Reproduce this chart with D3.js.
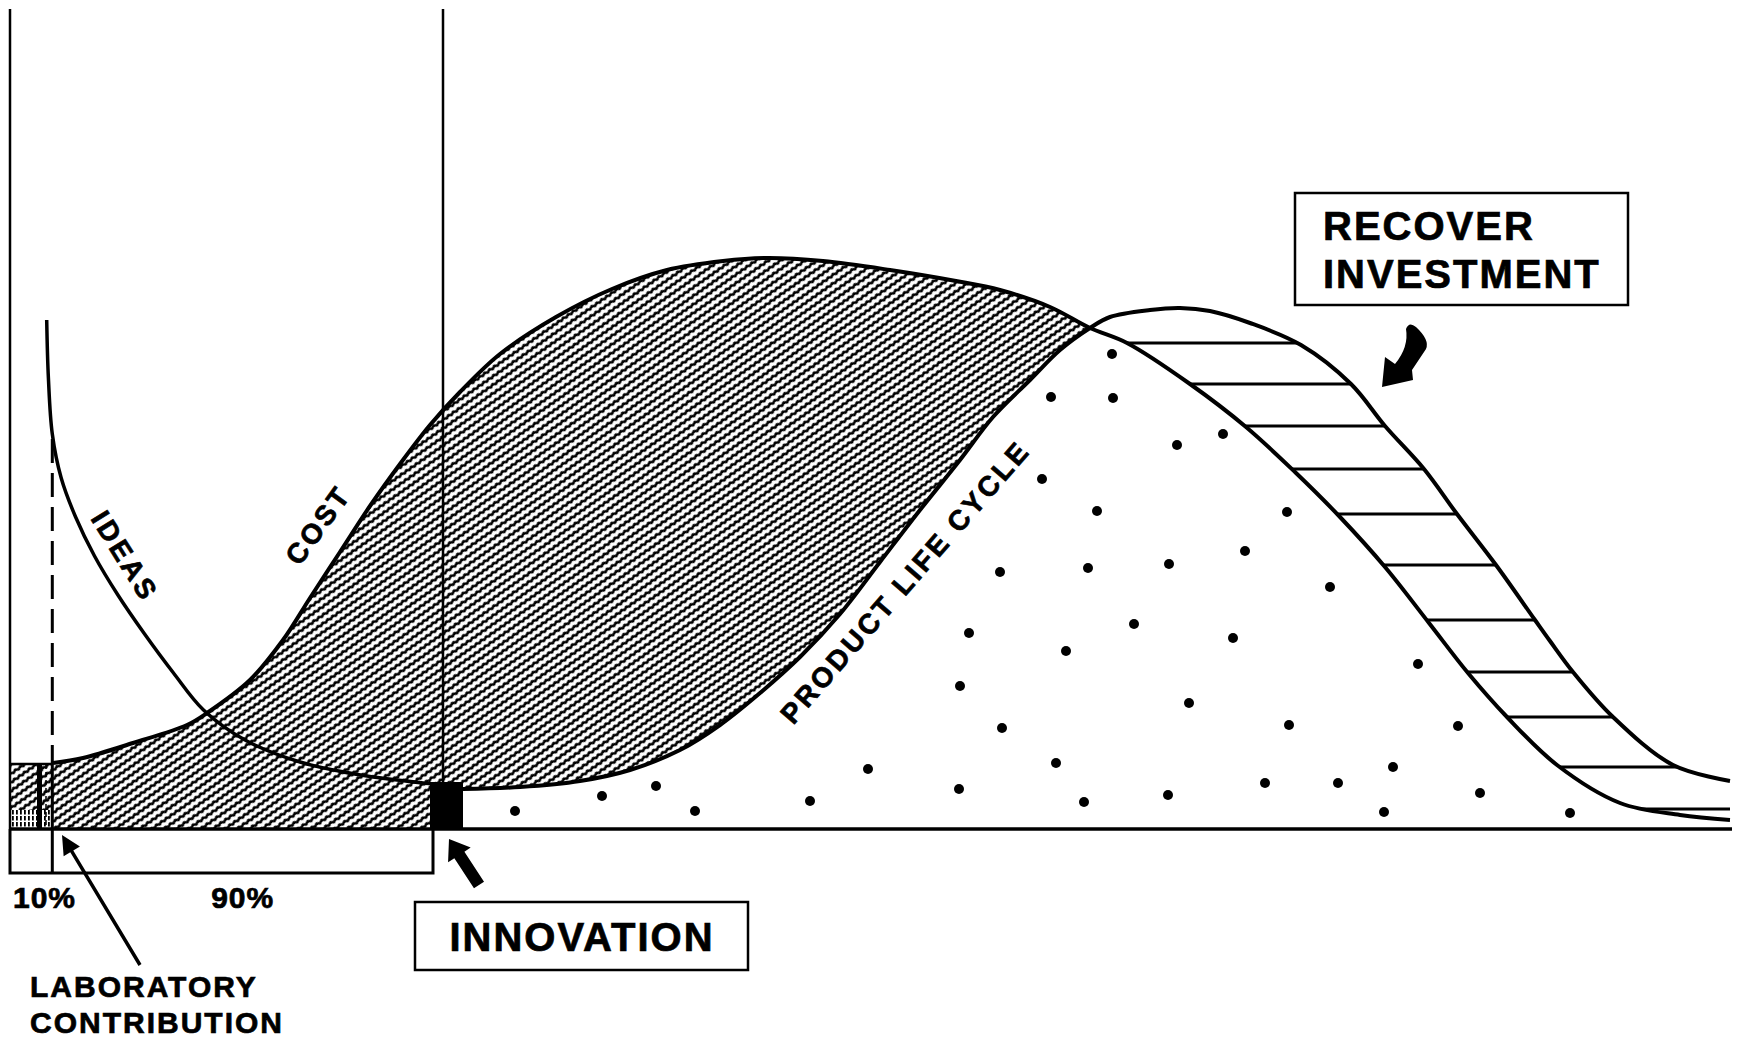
<!DOCTYPE html>
<html>
<head>
<meta charset="utf-8">
<script src="https://cdn.jsdelivr.net/npm/d3@7"></script>
<style>
  html, body { margin: 0; padding: 0; background: #fff; }
  svg { display: block; }
  text { font-family: "Liberation Sans", Arial, Helvetica, sans-serif; font-weight: bold; fill: #000; stroke: #000; stroke-width: 0.7px; }
</style>
</head>
<body>
<svg id="chart" width="1744" height="1041"></svg>
<script>
// --- Data (x: time along the cycle, y: level above the baseline) ---
const ideasCurve = [
    [3.67, 50.9], [3.84, 45.1], [4.23, 39.5], [5.12, 35.1], [6.56, 31.2], [8.45, 27.3],
    [10.79, 23.4], [13.46, 19.5], [16.35, 15.6], [19.35, 11.9], [23.5, 8.9], [29.0, 6.7],
    [35.7, 5.3], [42.4, 4.5]
];
const costCurve = [
    [4.3, 6.6], [7.3, 7.1], [12.3, 8.6], [17.7, 10.4], [19.7, 11.6], [24.0, 14.9],
    [27.3, 18.9], [30.0, 23.1], [33.0, 27.7], [36.0, 32.3], [39.0, 36.5], [42.0, 40.4],
    [45.0, 43.7], [49.0, 47.5], [54.6, 51.2], [60.2, 54.0], [65.7, 55.9], [71.3, 56.8],
    [75.7, 57.1], [81.3, 56.8], [88.0, 55.9], [94.6, 54.8], [99.0, 53.9], [104.0, 52.2],
    [108.0, 50.1], [111.7, 48.6], [118.0, 44.5], [123.6, 40.2], [128.6, 35.6], [133.0, 31.2],
    [137.5, 26.2], [141.9, 20.6], [145.8, 15.6], [149.7, 11.2], [154.7, 6.4], [161.0, 2.6],
    [167.0, 1.4], [172.0, 0.9]
];
const lifeCycleCurve = [
    [45.3, 4.0], [51.0, 4.2], [57.0, 4.8], [62.0, 5.9], [67.0, 7.9], [71.0, 10.4],
    [75.0, 13.6], [79.0, 17.2], [83.0, 21.5], [87.0, 26.7], [91.0, 31.9], [95.0, 36.9],
    [98.3, 41.2], [102.0, 44.9], [105.0, 47.9], [108.0, 50.1], [110.0, 51.2], [114.0, 51.9],
    [117.0, 52.1], [120.0, 51.8], [124.0, 50.6], [129.1, 48.4], [134.1, 44.5], [137.5, 40.3],
    [141.4, 36.0], [144.7, 31.5], [148.6, 26.4], [152.5, 20.9], [154.0, 18.8], [156.3, 15.7],
    [160.3, 11.2], [166.3, 6.4], [172.0, 4.8]
];
const crossX = 108.0;              // cost and life cycle curves meet here
const recoverLevels = [48.6, 44.5, 40.3, 36.0, 31.5, 26.4, 20.9, 15.7, 11.2, 6.2, 2.0];
const salesDots = [
    [50.5, 1.8], [59.2, 3.3], [64.6, 4.3], [68.5, 1.8], [80.0, 2.8], [85.8, 6.0],
    [94.9, 4.0], [95.0, 14.3], [95.9, 19.6], [99.0, 25.7], [99.2, 10.1], [103.2, 35.0],
    [104.1, 43.2], [104.6, 6.6], [105.6, 17.8], [107.4, 2.7], [107.8, 26.1], [108.7, 31.8],
    [110.2, 47.5], [110.3, 43.1], [112.4, 20.5], [115.9, 26.5], [115.8, 3.4], [116.7, 38.4],
    [117.9, 12.6], [121.3, 39.5], [122.3, 19.1], [123.5, 27.8], [125.5, 4.6], [127.7, 31.7],
    [127.9, 10.4], [132.0, 24.2], [132.8, 4.6], [137.4, 1.7], [138.3, 6.2], [140.8, 16.5],
    [144.8, 10.3], [147.0, 3.6], [156.0, 1.6]
];
const labSpan = 42.3;              // research phase before innovation
const labShare = 0.10;             // laboratory part of it
const labHeight = 6.5;
const splitLabels = ["10%", "90%"];
const innovation = { start: 42.0, line: 43.3, end: 45.3, top: 4.7 };

// --- Scales ---
const svg = d3.select("#chart");
const defs = svg.append("defs");
const x = d3.scaleLinear().domain([0, 172.2]).range([10, 1732]);
const y = d3.scaleLinear().domain([0, 82]).range([829, 9]);
const curve = d3.line().x(d => x(d[0])).y(d => y(d[1])).curve(d3.curveCatmullRom.alpha(0.5));
const joinPath = (a, b) => curve(a) + curve(b).replace(/^M/, "L");
const labEnd = labSpan * labShare;

// --- Patterns ---
const wavy = defs.append("pattern").attr("id", "wavy")
    .attr("patternUnits", "userSpaceOnUse")
    .attr("width", 6).attr("height", 7)
    .attr("patternTransform", "rotate(-35)");
wavy.append("path")
    .attr("d", "M-3,2.2 L0,4 L3,2.2 L6,4 L9,2.2")
    .attr("fill", "none").attr("stroke", "#000").attr("stroke-width", 2.6);

const vbars = defs.append("pattern").attr("id", "vbars")
    .attr("patternUnits", "userSpaceOnUse").attr("width", 4).attr("height", 6);
vbars.append("rect").attr("x", 0).attr("y", 0).attr("width", 1.8).attr("height", 4.5).attr("fill", "#000");

// --- Hatched cost area ---
const rise = costCurve.filter(d => d[0] <= crossX);
const climb = lifeCycleCurve.filter(d => d[0] <= crossX).reverse();
svg.append("path")
    .attr("d", joinPath(rise, climb) + `L${x(innovation.end)},${y(0)}L${x(rise[0][0])},${y(0)}Z`)
    .attr("fill", "url(#wavy)");

// laboratory block at the far left
svg.append("rect")
    .attr("x", x(0)).attr("y", y(labHeight))
    .attr("width", x(labEnd) - x(0)).attr("height", y(0) - y(labHeight))
    .attr("fill", "url(#wavy)");
svg.append("rect")
    .attr("x", x(0)).attr("y", y(1.9))
    .attr("width", x(labEnd) - x(0)).attr("height", y(0) - y(1.9))
    .attr("fill", "#fff");
svg.append("rect")
    .attr("x", x(0)).attr("y", y(1.9))
    .attr("width", x(labEnd) - x(0)).attr("height", y(0) - y(1.9))
    .attr("fill", "url(#vbars)");
svg.append("rect")
    .attr("x", x(2.7)).attr("y", y(labHeight))
    .attr("width", x(3.2) - x(2.7)).attr("height", y(0) - y(labHeight))
    .attr("fill", "#000");
svg.append("line")
    .attr("x1", x(3.6)).attr("x2", x(3.6)).attr("y1", y(labHeight)).attr("y2", y(0))
    .attr("stroke", "#000").attr("stroke-width", 1.5).attr("stroke-dasharray", "5,3");
svg.append("path")
    .attr("d", `M${x(0)},${y(labHeight)}H${x(labEnd)}`)
    .attr("stroke", "#000").attr("stroke-width", 2.5);

// --- Recover investment stripes ---
const outer = lifeCycleCurve.filter(d => d[0] >= crossX);
const inner = costCurve.filter(d => d[0] >= crossX).reverse();
defs.append("clipPath").attr("id", "recover")
    .append("path").attr("d", joinPath(outer, inner) + "Z");
svg.append("g").attr("clip-path", "url(#recover)")
    .selectAll("line").data(recoverLevels).join("line")
    .attr("x1", x(crossX)).attr("x2", x(172.2))
    .attr("y1", d => y(d)).attr("y2", d => y(d))
    .attr("stroke", "#000").attr("stroke-width", 3);

// --- Sales dots under the life cycle ---
svg.append("g").selectAll("circle").data(salesDots).join("circle")
    .attr("cx", d => x(d[0])).attr("cy", d => y(d[1]))
    .attr("r", 5).attr("fill", "#000");

// --- Curves ---
[costCurve, lifeCycleCurve].forEach(c => {
    svg.append("path").attr("d", curve(c))
        .attr("fill", "none").attr("stroke", "#000").attr("stroke-width", 4);
});
svg.append("path").attr("d", curve(ideasCurve))
    .attr("fill", "none").attr("stroke", "#000").attr("stroke-width", 3.5);

// --- Axes and guide lines ---
svg.append("line")
    .attr("x1", x(0)).attr("x2", x(0)).attr("y1", y(82)).attr("y2", y(0))
    .attr("stroke", "#000").attr("stroke-width", 2.5);
svg.append("line")
    .attr("x1", x(0)).attr("x2", x(172.2)).attr("y1", y(0)).attr("y2", y(0))
    .attr("stroke", "#000").attr("stroke-width", 3.5);
svg.append("line")
    .attr("x1", x(innovation.line)).attr("x2", x(innovation.line))
    .attr("y1", y(82)).attr("y2", y(innovation.top))
    .attr("stroke", "#000").attr("stroke-width", 2.5);
svg.append("line")
    .attr("x1", x(labEnd)).attr("x2", x(labEnd)).attr("y1", y(39.0)).attr("y2", y(labHeight))
    .attr("stroke", "#000").attr("stroke-width", 3).attr("stroke-dasharray", "24,10");
svg.append("line")
    .attr("x1", x(labEnd)).attr("x2", x(labEnd)).attr("y1", y(labHeight)).attr("y2", y(0))
    .attr("stroke", "#000").attr("stroke-width", 3);

// innovation block
svg.append("rect")
    .attr("x", x(innovation.start)).attr("y", y(innovation.top))
    .attr("width", x(innovation.end) - x(innovation.start))
    .attr("height", y(0) - y(innovation.top))
    .attr("fill", "#000");

// 10% / 90% bracket
svg.append("path")
    .attr("d", `M${x(0)},${y(0)}V${y(-4.4)}H${x(labSpan)}V${y(0)}M${x(labEnd)},${y(0)}V${y(-4.4)}`)
    .attr("fill", "none").attr("stroke", "#000").attr("stroke-width", 3);
svg.append("text").attr("x", x(0.3)).attr("y", y(-7.9))
    .attr("font-size", 30).attr("letter-spacing", 1).text(splitLabels[0]);
svg.append("text").attr("x", x((labEnd + labSpan) / 2)).attr("y", y(-7.9))
    .attr("text-anchor", "middle").attr("font-size", 30).attr("letter-spacing", 1).text(splitLabels[1]);

// --- Curve labels ---
function curveLabel(label, cx, cy, angle) {
    svg.append("text")
        .attr("transform", `translate(${x(cx)},${y(cy)}) rotate(${angle})`)
        .attr("text-anchor", "middle").attr("dy", "0.35em")
        .attr("font-size", 28).attr("letter-spacing", 3)
        .text(label);
}
curveLabel("IDEAS", 11.5, 27.3, 58);
curveLabel("COST", 30.8, 30.4, -54);
curveLabel("PRODUCT LIFE CYCLE", 89.5, 24.7, -49);

// --- Boxed annotations ---
function boxLabel(lines, x0, y0, x1, y1, tx, baselines, anchor) {
    svg.append("rect")
        .attr("x", x(x0)).attr("y", y(y0))
        .attr("width", x(x1) - x(x0)).attr("height", y(y1) - y(y0))
        .attr("fill", "#fff").attr("stroke", "#000").attr("stroke-width", 2.5);
    lines.forEach((t, i) => {
        svg.append("text").attr("x", x(tx)).attr("y", y(baselines[i]))
            .attr("text-anchor", anchor)
            .attr("font-size", 40).attr("letter-spacing", 2).text(t);
    });
}
boxLabel(["RECOVER", "INVESTMENT"], 128.5, 63.6, 161.8, 52.4, 131.3, [58.9, 54.1], "start");
boxLabel(["INNOVATION"], 40.5, -7.3, 73.8, -14.1, 57.2, [-12.2], "middle");

svg.append("text").attr("x", x(2.0)).attr("y", y(-16.8))
    .attr("font-size", 30).attr("letter-spacing", 2).text("LABORATORY");
svg.append("text").attr("x", x(2.0)).attr("y", y(-20.4))
    .attr("font-size", 30).attr("letter-spacing", 2).text("CONTRIBUTION");

// --- Arrows ---
function straightArrow(tip, tail, shaft, headL, headW) {
    const tx = x(tip[0]), ty = y(tip[1]);
    const dx = x(tail[0]) - tx, dy = y(tail[1]) - ty;
    const len = Math.hypot(dx, dy);
    const ang = Math.atan2(dy, dx) * 180 / Math.PI;
    const s = shaft / 2, h = headW / 2;
    svg.append("path")
        .attr("transform", `translate(${tx},${ty}) rotate(${ang})`)
        .attr("d", `M0,0L${headL},${-h}L${headL},${-s}L${len},${-s}L${len},${s}L${headL},${s}L${headL},${h}Z`)
        .attr("fill", "#000");
}
straightArrow([43.9, -1.0], [46.9, -5.6], 12, 19, 27);
straightArrow([5.2, -0.6], [13.0, -13.6], 3.5, 19, 19);

// curved arrow pointing at the recovered area
svg.append("path")
    .attr("transform", `translate(${x(137.2)},${y(44.2)})`)
    .attr("d", "M0,0 L3,-30 L13,-23 Q27,-40 24,-58 Q27,-66 34,-60 Q48,-47 44,-38 L30,-17 L31,-7 Z")
    .attr("fill", "#000");
</script>
</body>
</html>
